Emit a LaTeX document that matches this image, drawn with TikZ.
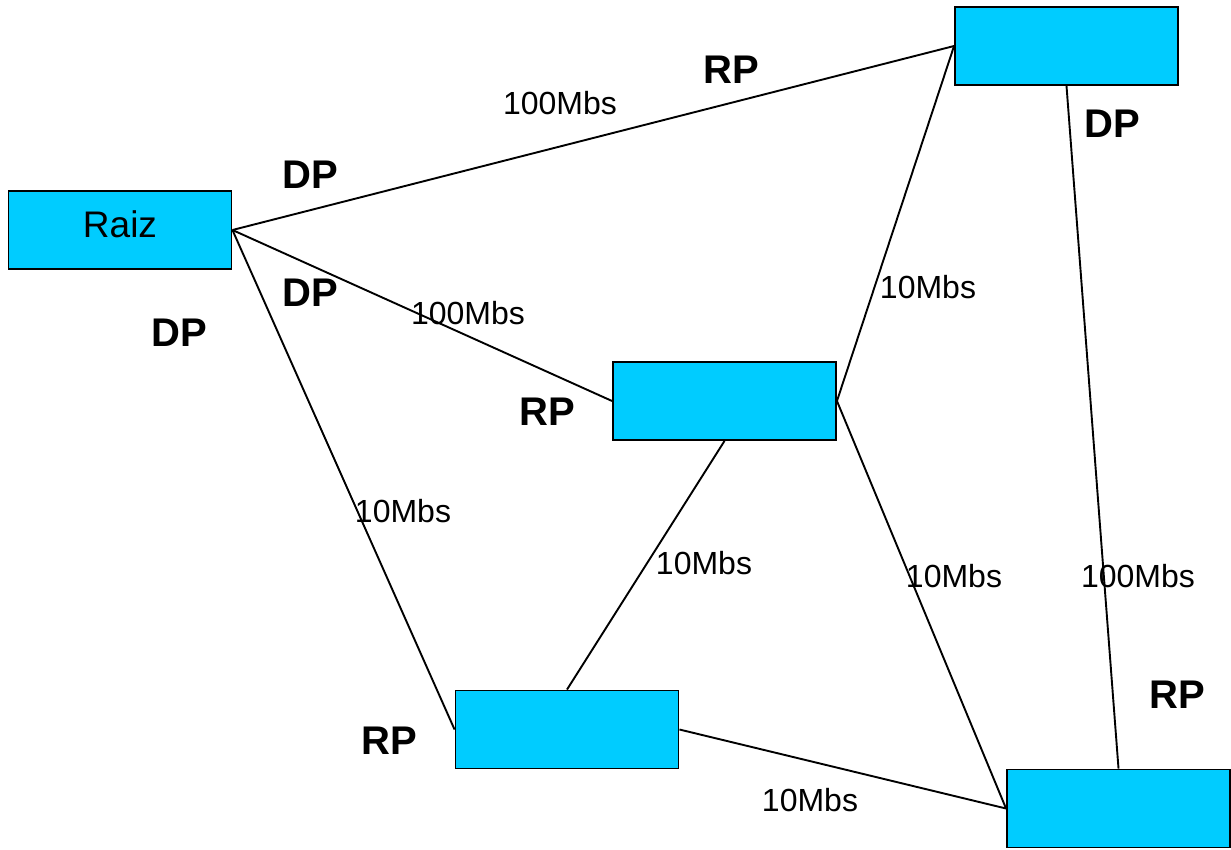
\documentclass[tikz,border=0pt]{standalone}
\usepackage{fontspec}
\setmainfont{Liberation Sans}
\definecolor{boxcyan}{HTML}{00CCFF}
\begin{document}
\begin{tikzpicture}[x=1pt,y=-1pt,
  sw/.style={draw=black,line width=1.9pt,fill=boxcyan,minimum width=223pt,minimum height=78pt,inner sep=0pt},
  link/.style={line width=1.9pt,black},
  rate/.style={inner sep=0pt,font=\fontsize{32}{38}\selectfont},
  port/.style={inner sep=0pt,font=\bfseries\fontsize{40}{46}\selectfont},
  boxlabel/.style={inner sep=0pt,font=\fontsize{37}{42}\selectfont}]
\useasboundingbox (0,0) rectangle (1231,849);
\node[sw] (raiz) at (120,230) {};
\node[boxlabel] (raizt) at (120,224) {Raiz};
\node[sw] (tr) at (1066.5,46) {};
\node[sw] (mid) at (724.5,401) {};
\node[sw] (bl) at (567,729.5) {};
\node[sw] (br) at (1118.5,808.5) {};
\draw[link] (raiz.east) -- (tr.west);
\draw[link] (raiz.east) -- (mid.west);
\draw[link] (raiz.east) -- (bl.west);
\draw[link] (mid.east) -- (tr.west);
\draw[link] (tr.south) -- (br.north);
\draw[link] (mid.south) -- (bl.north);
\draw[link] (mid.east) -- (br.west);
\draw[link] (bl.east) -- (br.west);
\node[rate] (r1) at (560,103) {100Mbs};
\node[rate] (r2) at (468,313) {100Mbs};
\node[rate] (r3) at (928,287) {10Mbs};
\node[rate] (r4) at (403,511) {10Mbs};
\node[rate] (r5) at (704,563) {10Mbs};
\node[rate] (r6) at (954,576) {10Mbs};
\node[rate] (r7) at (1138,576) {100Mbs};
\node[rate] (r8) at (810,800) {10Mbs};
\node[port] (p1) at (731,70) {RP};
\node[port] (p2) at (310,175) {DP};
\node[port] (p3) at (1112,124) {DP};
\node[port] (p4) at (310,293) {DP};
\node[port] (p5) at (179,333) {DP};
\node[port] (p6) at (547,412) {RP};
\node[port] (p7) at (1177,695) {RP};
\node[port] (p8) at (389,741) {RP};
\end{tikzpicture}
\end{document}
